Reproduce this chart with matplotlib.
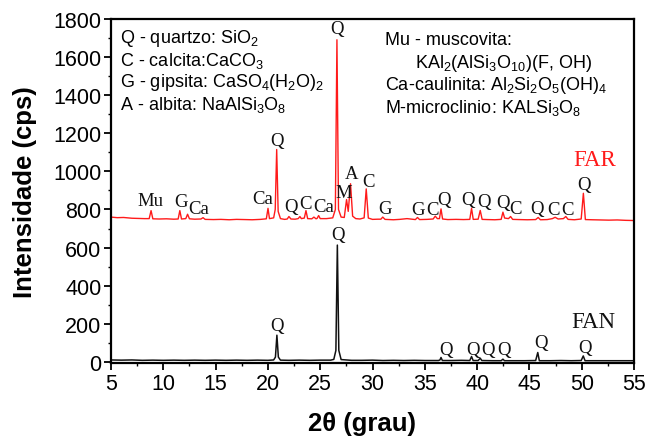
import matplotlib
matplotlib.use("Agg")
import matplotlib.pyplot as plt
from matplotlib.ticker import MultipleLocator

try:
    import matplotlib._mathtext as _mt
    _mt.FontConstantsBase.subdrop = 0.55
except Exception:
    pass

plt.rcParams['font.family'] = ['Liberation Sans', 'DejaVu Sans']
plt.rcParams['mathtext.fontset'] = 'custom'
plt.rcParams['mathtext.rm'] = 'Liberation Sans'
plt.rcParams['mathtext.it'] = 'Liberation Sans'
plt.rcParams['mathtext.default'] = 'regular'

# ---- data: FAN (black) trace points (2theta, cps) ----
fan_x = [5, 6, 7, 8, 9, 10, 11, 12, 13, 14, 15, 16, 17, 18, 19, 20, 20.55, 20.72, 20.86, 21.0, 21.2,
         22, 23, 24, 25, 26, 26.3, 26.5, 26.64, 26.78, 27.0, 28, 29, 30, 31, 32, 33, 34, 35, 36.3,
         36.45, 36.55, 36.68, 37.5, 38.5, 39.3, 39.47, 39.62, 40.1, 40.3, 40.45, 41.5, 42.3, 42.47,
         42.62, 43.5, 44.5, 45.6, 45.8, 45.95, 47, 48, 49, 49.95, 50.15, 50.32, 51, 52, 53, 54, 55]
fan_y = [10, 9, 10, 8, 9, 8, 9, 8, 9, 8, 9, 8, 9, 8, 9, 8, 10, 25, 140, 25, 9,
         8, 9, 8, 9, 9, 13, 60, 613, 60, 12, 8, 8, 9, 7, 8, 7, 8, 7, 7,
         10, 23, 7, 7, 8, 7, 28, 7, 7, 19, 7, 6, 6, 14,
         6, 6, 6, 7, 49, 6, 6, 7, 6, 7, 31, 6, 6, 6, 6, 6, 6]

# ---- data: FAR (red) trace points (2theta, cps) ----
far_x = [5, 5.6, 6.2, 7, 7.6, 8.2, 8.65, 8.83, 9.0, 9.6, 10.3, 11.0, 11.42, 11.58, 11.74, 12.15,
         12.32, 12.5, 13.0, 13.6, 13.8, 14.0, 14.8, 15.5, 16.3, 17.0, 17.8, 18.5, 19.3, 19.85,
         20.01, 20.15, 20.55, 20.7, 20.84, 20.98, 21.2, 21.6, 21.85, 22.01, 22.2, 22.6, 22.9,
         23.06, 23.2, 23.48, 23.64, 23.8, 24.2, 24.4, 24.6, 24.7, 24.85, 25.0, 25.6, 26.2, 26.45,
         26.6, 26.75, 27.0, 27.3, 27.52, 27.68, 27.9, 28.1, 28.4, 28.8, 29.2, 29.4, 29.6, 30.0,
         30.5, 30.8, 30.98, 31.2, 32.0, 32.6, 33.3, 34.1, 34.3, 34.5, 35.2, 35.8, 36.0, 36.2,
         36.4, 36.55, 36.7, 37.2, 38.0, 38.7, 39.3, 39.47, 39.63, 40.1, 40.3, 40.48, 41.0, 41.7,
         42.3, 42.47, 42.63, 43.0, 43.2, 43.4, 44.0, 44.8, 45.6, 45.84, 46.05, 46.7, 47.2, 47.46,
         47.75, 48.25, 48.48, 48.7, 49.3, 49.95, 50.16, 50.35, 51.0, 51.8, 52.6, 53.4, 54.2, 55]
far_y = [760, 757, 758, 754, 753, 752, 752, 794, 751, 750, 751, 749, 750, 794, 750, 752,
         775, 751, 749, 750, 757, 748, 747, 748, 746, 748, 747, 746, 748, 751,
         806, 752, 756, 800, 1115, 790, 752, 748, 750, 763, 750, 749, 752,
         763, 752, 755, 794, 752, 751, 760, 751, 753, 768, 752, 752, 756, 800,
         1691, 800, 760, 758, 852, 790, 935, 765, 752, 750, 756, 908, 755, 748,
         749, 749, 760, 748, 746, 748, 752, 747, 758, 747, 748, 750, 765, 752,
         752, 803, 750, 747, 748, 747, 748, 806, 748, 749, 795, 748, 747, 746,
         748, 786, 755, 752, 763, 748, 747, 746, 747, 758, 746, 747, 752, 759,
         750, 752, 763, 748, 746, 750, 885, 747, 746, 745, 744, 745, 743, 742]

# ---- peak labels: (text, 2theta, cps) ----
far_labels = ["Mu", "G", "Ca", "Ca", "Q", "Q", "C", "Ca", "Q", "M", "A", "C", "G",
              "G", "C", "Q", "Q", "Q", "Q", "C", "Q", "C", "C", "Q"]
far_lab_x = [8.79, 11.68, 13.4, 19.53, 20.84, 22.18, 23.6, 25.32, 26.6, 27.26, 28.03, 29.65, 31.15,
             34.33, 35.7, 36.8, 39.16, 40.69, 42.44, 43.71, 45.77, 47.27, 48.64, 50.23]
far_lab_y = [846, 842, 807, 860, 1161, 816, 833, 816, 1751, 890, 991, 949, 807,
             802, 802, 854, 854, 842, 837, 807, 807, 802, 802, 933]
fan_labels = ["Q", "Q", "Q", "Q", "Q", "Q", "Q", "Q"]
fan_lab_x = [20.9, 26.69, 37.03, 39.57, 41.0, 42.6, 46.1, 50.3]
fan_lab_y = [193, 671, 67, 67, 63, 63, 102, 75]

legend_left = [r"Q - quartzo: SiO$_2$",
               r"C - calcita:CaCO$_3$",
               r"G - gipsita: CaSO$_4$(H$_2$O)$_2$",
               r"A - albita: NaAlSi$_3$O$_8$"]
legend_right = [r"Mu - muscovita:",
                r"KAl$_2$(AlSi$_3$O$_{10}$)(F, OH)",
                r"Ca-caulinita: Al$_2$Si$_2$O$_5$(OH)$_4$",
                r"M-microclinio: KALSi$_3$O$_8$"]

fig = plt.figure(figsize=(6.46, 4.39), dpi=100)
ax = fig.add_axes([111/646, 1-364/439, (634-111)/646, (364-20)/439])

ax.plot(fan_x, fan_y, color='#111111', lw=1.1)
ax.plot(far_x, far_y, color='#ff1a1a', lw=1.0)

serif = ['Liberation Serif', 'DejaVu Serif']
for t, x, y in zip(far_labels, far_lab_x, far_lab_y):
    ax.text(x, y, t, family=serif, fontsize=13.5, ha='center', va='center', color='#111111')
for t, x, y in zip(fan_labels, fan_lab_x, fan_lab_y):
    ax.text(x, y, t, family=serif, fontsize=13.5, ha='center', va='center', color='#111111')
ax.text(51.28, 1061, "FAR", family=serif, fontsize=16.5, ha='center', va='center', color='#ff1a1a')
ax.text(51.1, 214, "FAN", family=serif, fontsize=16.5, ha='center', va='center', color='#111111')

for t, y in zip(legend_left, [1681, 1560, 1446, 1327]):
    ax.text(5.86, y, t, fontsize=13, ha='left', va='baseline')
for t, x, y in zip(legend_right, [31.15, 34.1, 31.15, 31.15], [1669, 1546, 1432, 1313]):
    ax.text(x, y, t, fontsize=13, ha='left', va='baseline')

ax.set_xlim(5, 55)
ax.set_ylim(-6, 1800)
ax.xaxis.set_major_locator(MultipleLocator(5))
ax.xaxis.set_minor_locator(MultipleLocator(2.5))
ax.yaxis.set_major_locator(MultipleLocator(200))
ax.yaxis.set_minor_locator(MultipleLocator(100))
ax.tick_params(which='major', direction='out', length=5, width=1.3, labelsize=15.5, pad=2)
ax.tick_params(which='minor', direction='out', length=2.5, width=1.0)
ax.tick_params(top=False, right=False)
for s in ax.spines.values():
    s.set_linewidth(1.6)

ax.set_xlabel("2θ (grau)", fontsize=18.5, fontweight='bold', va='top')
ax.set_ylabel("Intensidade (cps)", fontsize=18.5, fontweight='bold')
ax.xaxis.set_label_coords(0.48, -0.14)
ax.yaxis.set_label_coords(-0.1415, 0.5)

fig.savefig("out.png", dpi=100)
